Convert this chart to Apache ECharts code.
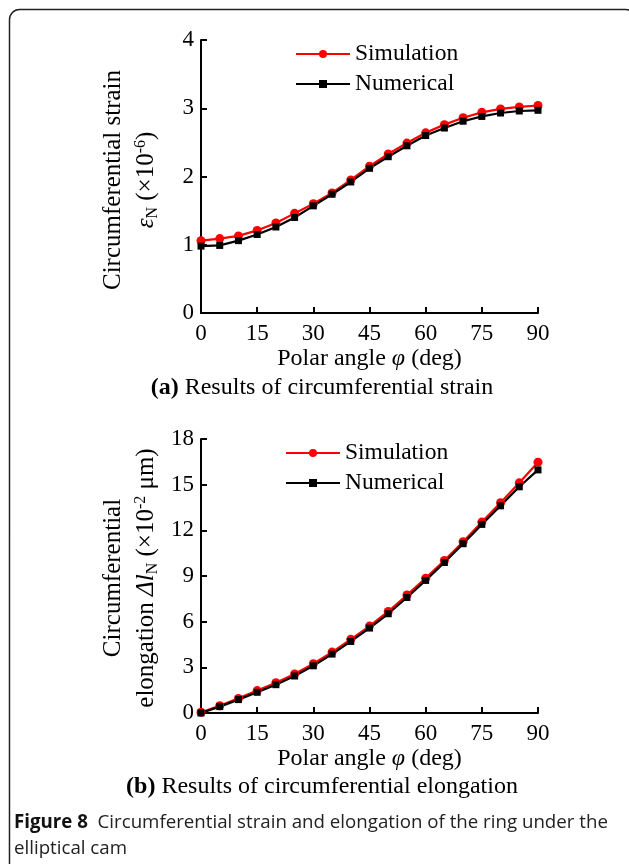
<!DOCTYPE html>
<html>
<head>
<meta charset="utf-8">
<script src="https://cdn.jsdelivr.net/npm/echarts@6/dist/echarts.min.js"></script>
<style>
html,body{margin:0;padding:0;background:#fff;}
#c{width:629px;height:864px;}
</style>
</head>
<body>
<div id="c"></div>
<script>
const angles = [0,5,10,15,20,25,30,35,40,45,50,55,60,65,70,75,80,85,90];
const xTicks = [0,15,30,45,60,75,90];
const strainSim = [1.06,1.09,1.13,1.21,1.32,1.46,1.60,1.76,1.95,2.15,2.33,2.49,2.64,2.76,2.86,2.94,2.99,3.02,3.04];
const strainNum = [0.98,0.99,1.06,1.15,1.26,1.40,1.57,1.74,1.92,2.12,2.29,2.45,2.60,2.71,2.81,2.88,2.93,2.96,2.97];
const elongSim = [0.05,0.48,0.96,1.47,1.99,2.56,3.24,4.00,4.84,5.71,6.67,7.75,8.86,10.02,11.25,12.54,13.81,15.12,16.48];
const elongNum = [0.00,0.42,0.88,1.36,1.86,2.43,3.10,3.87,4.70,5.58,6.52,7.59,8.71,9.89,11.12,12.39,13.61,14.86,15.97];
const yTicksA = [0,1,2,3,4];
const yTicksB = [0,3,6,9,12,15,18];

const SERIF = '"Liberation Serif", "Times New Roman", serif';
const SANS = '"Open Sans", "Noto Sans", sans-serif';
const RED = '#ff0000', BLK = '#000000';
const FS = 23;

function pair(a){ return angles.map((x,i)=>[x, a[i]]); }

function xAxis(gi){
  return {
    gridIndex: gi, type: 'value', min: 0, max: 90, interval: 15,
    axisLine: {lineStyle: {color: '#000', width: 2}},
    axisTick: {inside: true, length: 6, lineStyle: {color: '#000', width: 2}},
    axisLabel: {color: '#000', fontFamily: SERIF, fontSize: FS, margin: 9},
    splitLine: {show: false},
    name: '{n|Polar angle }{i|φ}{n| (deg)}',
    nameLocation: 'middle', nameGap: 34,
    nameTextStyle: {rich: {
      n: {fontFamily: SERIF, fontSize: 24, color: '#000'},
      i: {fontFamily: SERIF, fontSize: 24, fontStyle: 'italic', color: '#000'}
    }}
  };
}
function yAxis(gi, max, interval){
  return {
    gridIndex: gi, type: 'value', min: 0, max: max, interval: interval,
    axisLine: {show: true, lineStyle: {color: '#000', width: 2}},
    axisTick: {show: true, inside: true, length: 6, lineStyle: {color: '#000', width: 2}},
    axisLabel: {color: '#000', fontFamily: SERIF, fontSize: FS, margin: 7},
    splitLine: {show: false}
  };
}
function series(name, data, gi, color, symbol, size){
  return {
    name: name, type: 'line', xAxisIndex: gi, yAxisIndex: gi,
    data: data, symbol: symbol, symbolSize: size, showSymbol: true,
    lineStyle: {color: color, width: 2.2}, itemStyle: {color: color},
    animation: false
  };
}
const legendText = {fontFamily: SERIF, fontSize: 23.5, color: '#000'};
const titleRich = {
  n: {fontFamily: SERIF, fontSize: 25, fill: '#000', lineHeight: 33},
  i: {fontFamily: SERIF, fontSize: 25, fontStyle: 'italic', fill: '#000', lineHeight: 33},
  s: {fontFamily: SERIF, fontSize: 16, fill: '#000', verticalAlign: 'bottom', lineHeight: 33, padding: [0,0,2,0]},
  p: {fontFamily: SERIF, fontSize: 16, fill: '#000', verticalAlign: 'top', lineHeight: 33, padding: [3,0,0,0]}
};
const chart = echarts.init(document.getElementById('c'));
chart.setOption({
  backgroundColor: '#fff',
  animation: false,
  grid: [
    {left: 201, top: 40, width: 337, height: 273},
    {left: 201, top: 439, width: 337, height: 274}
  ],
  xAxis: [xAxis(0), xAxis(1)],
  yAxis: [yAxis(0, 4, 1), yAxis(1, 18, 3)],
  legend: [
    {left: 290, top: 37, orient: 'vertical', itemWidth: 54, itemHeight: 10, itemGap: 6,
     textStyle: legendText, data: ['Simulation', 'Numerical'], selectedMode: false},
    {left: 280, top: 436, orient: 'vertical', itemWidth: 54, itemHeight: 10, itemGap: 6,
     textStyle: legendText, data: ['Simulation ', 'Numerical '], selectedMode: false,
     formatter: n => n.trim()}
  ],
  series: [
    series('Simulation', pair(strainSim), 0, RED, 'circle', 9),
    series('Numerical', pair(strainNum), 0, BLK, 'rect', 7),
    series('Simulation ', pair(elongSim), 1, RED, 'circle', 9),
    series('Numerical ', pair(elongNum), 1, BLK, 'rect', 7)
  ],
  graphic: [
    {type: 'rect', shape: {x: 9.5, y: 9.5, width: 626, height: 900, r: 10},
     style: {fill: 'none', stroke: '#222', lineWidth: 1.5}, silent: true},
    {type: 'text', x: 130, y: 180, rotation: Math.PI/2, silent: true,
     style: {text: '{n|Circumferential strain}\n{i|ε}{s|N}{n| (×10}{p|-6}{n|)}',
       align: 'center', verticalAlign: 'middle', rich: titleRich}},
    {type: 'text', x: 130, y: 578, rotation: Math.PI/2, silent: true,
     style: {text: '{n|Circumferential}\n{n|elongation }{i|Δl}{s|N}{n| (×10}{p|-2}{n| μm)}',
       align: 'center', verticalAlign: 'middle', rich: titleRich}},
    {type: 'text', x: 322, y: 388, silent: true,
     style: {text: '{b|(a)}{n| Results of circumferential strain}', align: 'center', verticalAlign: 'middle',
       rich: {b: {fontFamily: SERIF, fontSize: 24, fontWeight: 'bold', fill: '#000'},
              n: {fontFamily: SERIF, fontSize: 24, fill: '#000'}}}},
    {type: 'text', x: 322, y: 787, silent: true,
     style: {text: '{b|(b)}{n| Results of circumferential elongation}', align: 'center', verticalAlign: 'middle',
       rich: {b: {fontFamily: SERIF, fontSize: 24, fontWeight: 'bold', fill: '#000'},
              n: {fontFamily: SERIF, fontSize: 24, fill: '#000'}}}},
    {type: 'text', x: 14, y: 836, silent: true,
     style: {text: '{b|Figure 8}{n|  Circumferential strain and elongation of the ring under the}\n{n|elliptical cam}',
       align: 'left', verticalAlign: 'middle',
       rich: {b: {fontFamily: SANS, fontSize: 18.7, fontWeight: 'bold', fill: '#111', lineHeight: 26},
              n: {fontFamily: SANS, fontSize: 18.7, fill: '#222', lineHeight: 26}}}}
  ]
});
</script>
</body>
</html>
